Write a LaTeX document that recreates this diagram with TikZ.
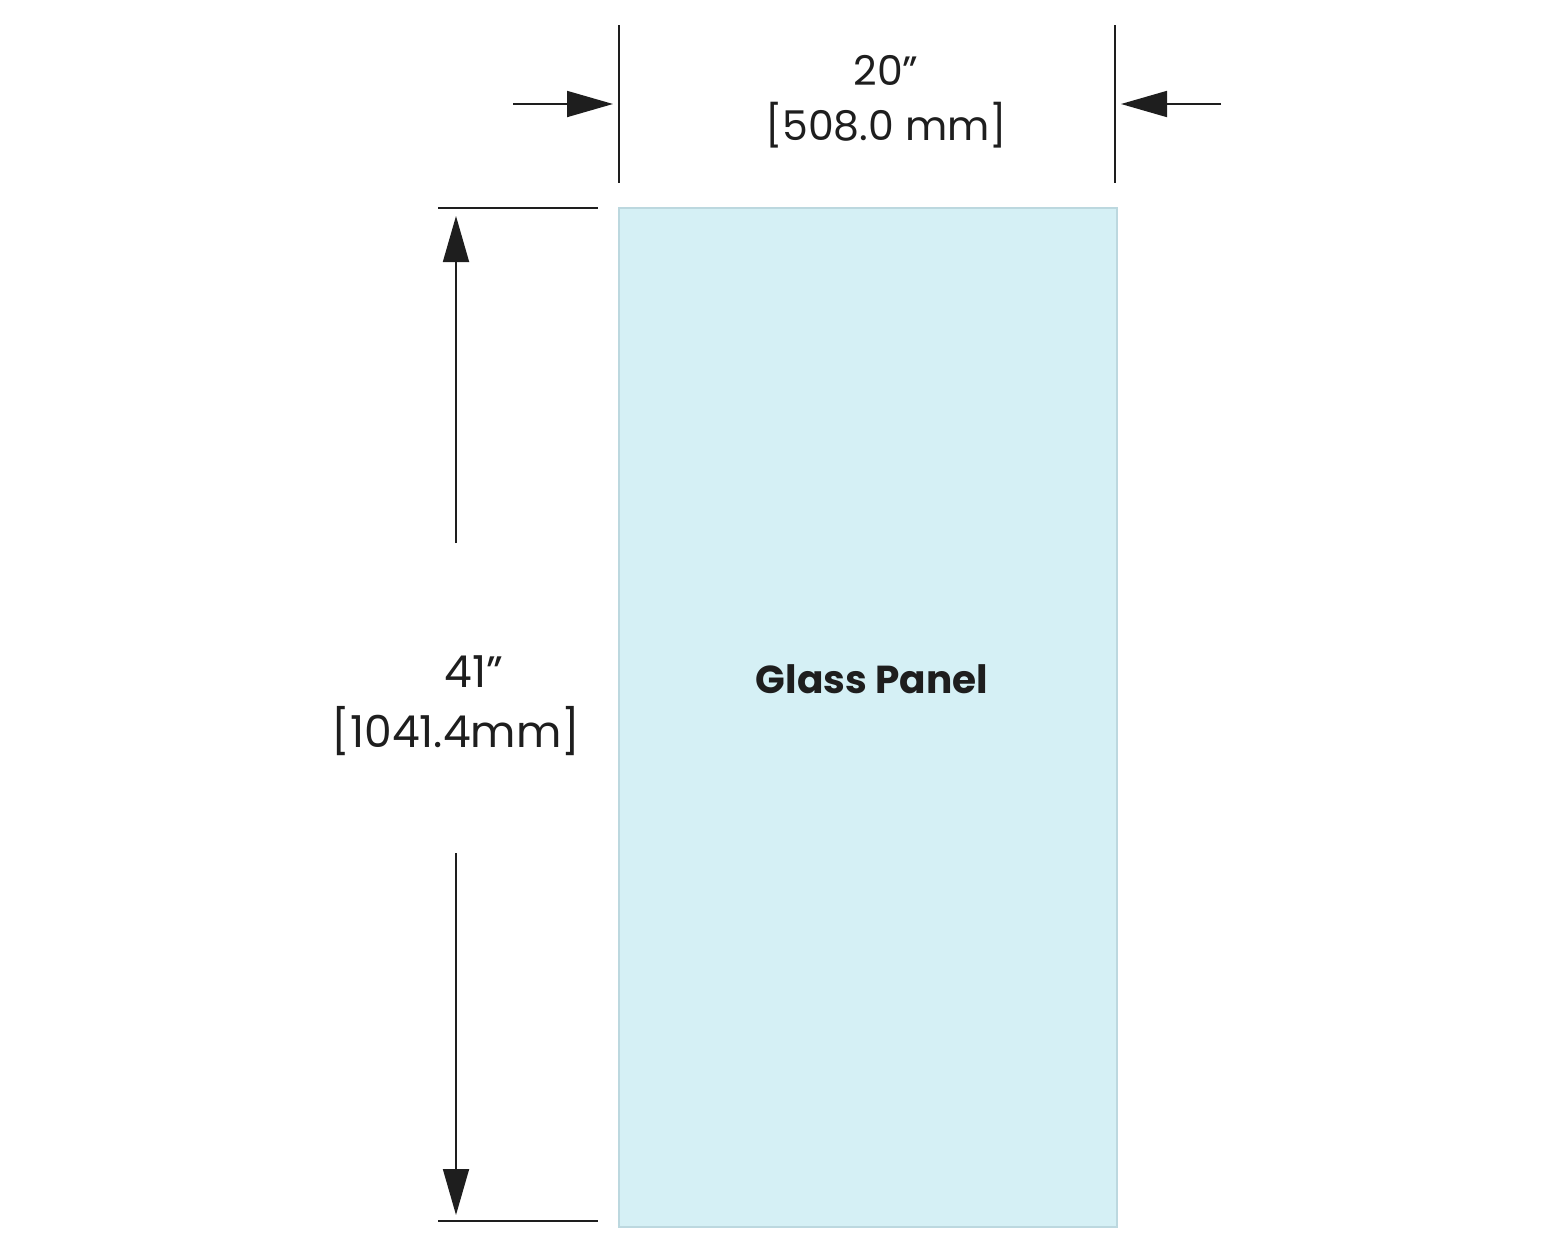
\documentclass[tikz,border=0pt]{standalone}
\usepackage{fontspec}
\setmainfont{Poppins}
\usetikzlibrary{arrows.meta}
\definecolor{glass}{HTML}{D5F0F5}
\definecolor{glassedge}{HTML}{BCD8DF}
\definecolor{ink}{HTML}{1E1E1E}
\tikzset{
  dimline/.style={draw=ink, line width=1.8pt},
  dimarrow/.style={dimline, -{Triangle[length=46pt,width=26pt]}},
  dimtext/.style={text=ink, align=center, inner sep=0pt},
}
\begin{document}
\begin{tikzpicture}[x=1pt,y=-1pt]
  \useasboundingbox (0,0) rectangle (1563,1251);
  % panel
  \node[draw=glassedge, fill=glass, line width=1.6pt, minimum width=498pt, minimum height=1019pt, inner sep=0pt, anchor=north west] (panel) at (618,207) {};
  \node[font=\fontsize{39}{46}\selectfont\bfseries, text=ink] (label) at (872,679) {Glass Panel};
  % width dimension
  \coordinate (wl1) at (619,25);  \coordinate (wl2) at (619,183);
  \coordinate (wr1) at (1115,25); \coordinate (wr2) at (1115,183);
  \draw[dimline] (wl1) -- (wl2);
  \draw[dimline] (wr1) -- (wr2);
  \coordinate (al0) at (513,104); \coordinate (al1) at (613,104);
  \coordinate (ar0) at (1221,104); \coordinate (ar1) at (1121,104);
  \draw[dimarrow] (al0) -- (al1);
  \draw[dimarrow] (ar0) -- (ar1);
  \node[dimtext, font=\fontsize{41}{55}\selectfont] (wtext) at (886,102) {20”\\{}[508.0 mm]};
  % height dimension
  \coordinate (ht0) at (438,208); \coordinate (ht1) at (598,208);
  \coordinate (hb0) at (438,1221); \coordinate (hb1) at (598,1221);
  \draw[dimline] (ht0) -- (ht1);
  \draw[dimline] (hb0) -- (hb1);
  \coordinate (vt0) at (456,543); \coordinate (vt1) at (456,216);
  \coordinate (vb0) at (456,853); \coordinate (vb1) at (456,1215);
  \draw[dimarrow] (vt0) -- (vt1);
  \draw[dimarrow] (vb0) -- (vb1);
  \node[dimtext, font=\fontsize{44}{60}\selectfont] (htext) at (456,706) {\hspace*{36pt}41”\\{}[1041.4mm]};
\end{tikzpicture}
\end{document}
